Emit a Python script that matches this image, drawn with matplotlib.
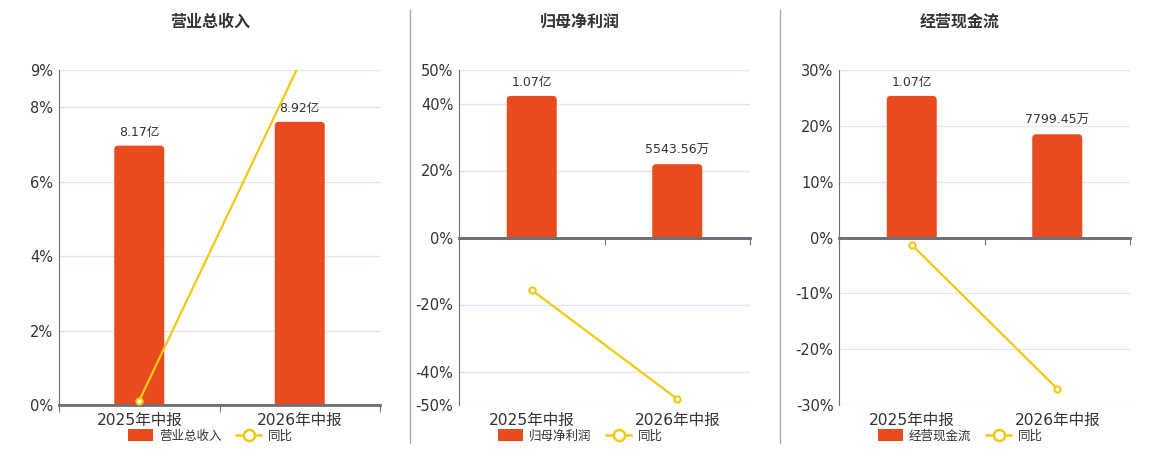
import numpy as np
import matplotlib
matplotlib.use("Agg")
import matplotlib.pyplot as plt
from matplotlib.patches import FancyBboxPatch, Rectangle, Patch
from matplotlib.lines import Line2D
from matplotlib.transforms import blended_transform_factory

plt.rcParams['font.family'] = ['DejaVu Sans', 'Noto Sans CJK SC']

# 数据
categories = ['2025年中报', '2026年中报']
titles = ['营业总收入', '归母净利润', '经营现金流']
bar_values = [[8.17, 8.92], [1.07, 0.554356], [1.07, 0.779945]]   # 单位：亿
bar_labels = [['8.17亿', '8.92亿'], ['1.07亿', '5543.56万'], ['1.07亿', '7799.45万']]
yoy_values = [[0.12, 9.18], [-15.7, -48.2], [-1.3, -27.1]]        # 同比 %
y_ticks = [[0, 2, 4, 6, 8, 9], [-50, -40, -20, 0, 20, 40, 50], [-30, -20, -10, 0, 10, 20, 30]]
y_limits = [(0, 9), (-50, 50), (-30, 30)]

BAR_COLOR = '#E84C1E'
LINE_COLOR = '#F2C811'
AXIS_COLOR = '#6E7079'
GRID_COLOR = '#E0E6F1'
TEXT_COLOR = '#333333'

W, H = 1160, 450
fig = plt.figure(figsize=(W / 100, H / 100), dpi=100)

ax_left_px = [59, 459, 839]
ax_width_px = [321, 291, 291]
panel_center_px = [210, 580, 960]

for i in range(3):
    ax = fig.add_axes([ax_left_px[i] / W, 45 / H, ax_width_px[i] / W, 335 / H])
    ax.set_xlim(-0.5, 1.5)
    ax.set_ylim(*y_limits[i])
    ax.set_yticks(y_ticks[i])
    ax.set_yticklabels([f'{t}%' for t in y_ticks[i]], fontsize=10.5, color=TEXT_COLOR)
    ax.yaxis.grid(True, color=GRID_COLOR, lw=1)
    ax.set_axisbelow(True)
    ax.tick_params(axis='y', length=0, pad=4)
    for s in ['top', 'right']:
        ax.spines[s].set_visible(False)
    ax.spines['left'].set_color(AXIS_COLOR)
    ax.spines['bottom'].set_color(AXIS_COLOR)
    ax.spines['bottom'].set_linewidth(2)
    ax.spines['bottom'].set_position(('data', 0))
    ax.set_xticks([-0.5, 0.5, 1.5])
    ax.set_xticklabels([])
    ax.tick_params(axis='x', length=5, color=AXIS_COLOR, direction='out')

    trans = blended_transform_factory(ax.transData, ax.transAxes)
    for j, c in enumerate(categories):
        ax.text(j, -0.045, c, transform=trans, ha='center', va='center',
                fontsize=11.2, color=TEXT_COLOR)

    # 柱状图用隐藏的副轴（在上层）
    ax2 = ax.twinx()
    top = max(bar_values[i]) * 1.183
    lo, hi = y_limits[i]
    ax2.set_ylim(lo / hi * top, top)
    ax2.set_xlim(-0.5, 1.5)
    ax2.axis('off')

    # 圆角柱子
    fig.canvas.draw()
    bbox = ax2.get_window_extent()
    x_per_px = 2.0 / bbox.width
    y_per_px = (top - lo / hi * top) / bbox.height
    aspect = y_per_px / x_per_px
    bw = 50 * x_per_px
    r = 4 * x_per_px
    for j, v in enumerate(bar_values[i]):
        p = FancyBboxPatch((j - bw / 2 + r, 0), bw - 2 * r, v - r * aspect,
                           boxstyle=f'round,pad={r},rounding_size={r}',
                           mutation_aspect=aspect, fc=BAR_COLOR, ec='none')
        ax2.add_patch(p)
        clip = Rectangle((j - bw, 0), 2 * bw, top * 2, transform=ax2.transData)
        p.set_clip_path(clip)
        ax2.text(j, v + 7 * y_per_px, bar_labels[i][j], ha='center', va='bottom',
                 fontsize=9, color=TEXT_COLOR)

    # 零轴线画在柱子上面
    ax2.plot([-0.5, 1.5], [0, 0], color=AXIS_COLOR, lw=2, transform=ax.transData,
             solid_capstyle='butt')

    # 同比折线（按主轴刻度）
    ax2.plot(range(2), yoy_values[i], color=LINE_COLOR, lw=1.6, marker='o',
             markersize=4.5, markerfacecolor='white', markeredgecolor=LINE_COLOR,
             markeredgewidth=1.5, zorder=5, transform=ax.transData)

    fig.text(panel_center_px[i] / W, 1 - 22 / H, titles[i], ha='center', va='center',
             fontsize=11.5, fontweight='bold', color=TEXT_COLOR)

    handles = [Patch(fc=BAR_COLOR, ec='none', label=titles[i]),
               Line2D([], [], color=LINE_COLOR, lw=1.8, marker='o', markersize=8,
                      markerfacecolor='white', markeredgewidth=1.8, label='同比')]
    leg = fig.legend(handles=handles, loc='center', ncol=2,
                     bbox_to_anchor=(panel_center_px[i] / W, 1 - 436 / H),
                     frameon=False, fontsize=9, handlelength=2.0, handleheight=1.1,
                     columnspacing=1.2, handletextpad=0.5, borderpad=0)
    for t in leg.get_texts():
        t.set_color(TEXT_COLOR)

# 分隔线
for xpx in [410, 780]:
    fig.add_artist(Line2D([xpx / W, xpx / W], [1 - 10 / H, 1 - 443 / H],
                          color='#AAAAAA', lw=1))

fig.savefig('out.png', dpi=100)
